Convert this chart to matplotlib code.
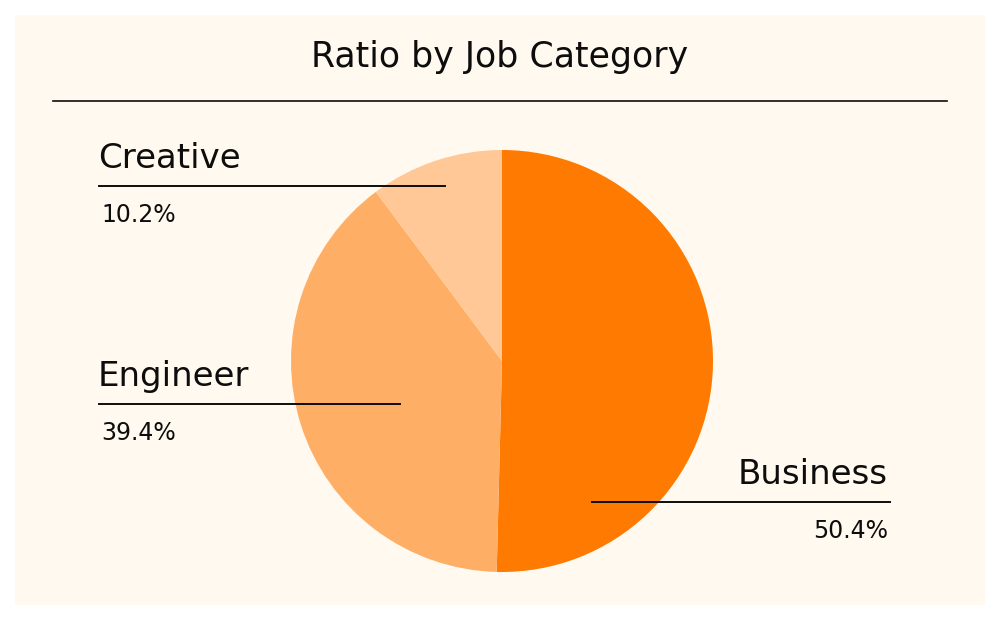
import matplotlib.pyplot as plt
from matplotlib.patches import Rectangle

categories = ['Business', 'Engineer', 'Creative']
shares = [50.4, 39.4, 10.2]
colors = ['#FF7A00', '#FFAE66', '#FFC896']

W, H = 1000, 620
fig = plt.figure(figsize=(W / 100, H / 100), dpi=100)
fig.patch.set_facecolor('white')
ax = fig.add_axes([0, 0, 1, 1])

def py(y):
    return H - y

# panel background
ax.add_patch(Rectangle((15, py(605)), 970, 590, facecolor='#FFF9EF', edgecolor='none', zorder=0))

font = 'DejaVu Sans'
ink = '#0d0d0d'
ax.text(500, py(67), 'Ratio by Job Category', ha='center', va='baseline', fontsize=25,
        fontfamily=font, fontstretch='semi-condensed', color=ink)
ax.plot([53, 947], [py(101), py(101)], color=ink, lw=1.2)

ax.pie(shares, colors=colors, startangle=90, counterclock=False,
       center=(502, py(361)), radius=211, frame=True,
       wedgeprops=dict(linewidth=0))
ax.set_xlim(0, W)
ax.set_ylim(0, H)
ax.axis('off')

# label layout: (text x, line x0, line x1, line y, align)
layout = {
    'Creative': (98, 99, 445, 186, 'left'),
    'Engineer': (98, 99, 400, 404, 'left'),
    'Business': (888, 592, 890, 502, 'right'),
}
for cat, val in zip(categories, shares):
    tx, x0, x1, ly, ha = layout[cat]
    ax.plot([x0, x1], [py(ly), py(ly)], color=ink, lw=1.4, zorder=5)
    ax.text(tx, py(ly - 18), cat, ha=ha, va='baseline', fontsize=24.5,
            fontfamily=font, color=ink, zorder=6)
    ax.text(tx + (3 if ha == 'left' else 0), py(ly + 36), f'{val}%', ha=ha, va='baseline',
            fontsize=17, fontfamily=font, color=ink, zorder=6)

fig.savefig('out.png', dpi=100, facecolor=fig.get_facecolor())
